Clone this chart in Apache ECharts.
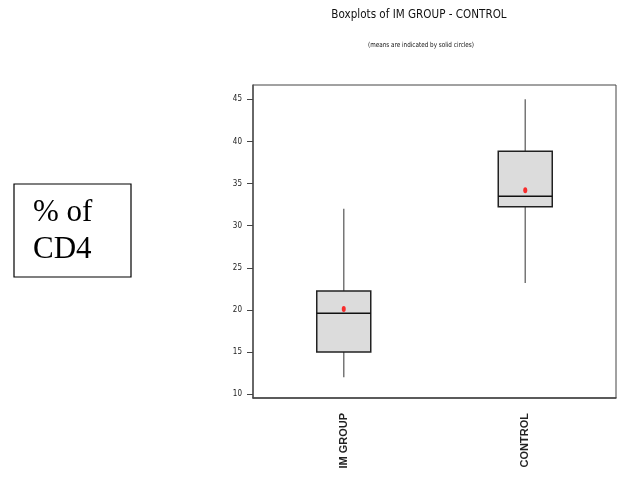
<!DOCTYPE html>
<html>
<head>
<meta charset="utf-8">
<script src="https://cdn.jsdelivr.net/npm/echarts@6/dist/echarts.min.js"></script>
<style>
  html, body { margin: 0; padding: 0; background: #fff; }
  #chart { width: 625px; height: 479px; }
</style>
</head>
<body>
<div id="chart"></div>
<script>
// values
var categories = ['IM GROUP', 'CONTROL'];
var whiskerLow = [12, 23.2];
var q1 = [15, 32.25];
var median = [19.6, 33.5];
var q3 = [22.25, 38.85];
var whiskerHigh = [32, 45];
var means = [20.1, 34.2];
var yTicks = [10, 15, 20, 25, 30, 35, 40, 45];

var boxData = categories.map(function (c, i) {
  return [i, whiskerLow[i], q1[i], median[i], q3[i], whiskerHigh[i]];
});
var meanData = categories.map(function (c, i) { return [i, means[i]]; });

var narrow = '"Liberation Sans Narrow", "DejaVu Sans Condensed", "Liberation Sans", sans-serif';

var chart = echarts.init(document.getElementById('chart'));
chart.setOption({
  backgroundColor: '#fff',
  animation: false,
  grid: {
    left: 253, right: 9, top: 85, bottom: 81,
    show: true, borderColor: '#444', borderWidth: 1
  },
  xAxis: {
    type: 'category',
    data: categories,
    boundaryGap: true,
    axisLine: { lineStyle: { color: '#444', width: 1.5 } },
    axisTick: { alignWithLabel: true, length: 11, lineStyle: { color: '#444' } },
    axisLabel: {
      rotate: 90, margin: 15, fontSize: 11, color: '#222',
      fontFamily: 'Liberation Sans, Arial, sans-serif', fontWeight: 'bold'
    },
    splitLine: { show: false }
  },
  yAxis: {
    type: 'value',
    min: 9.55, max: 46.7,
    axisLine: { show: true, lineStyle: { color: '#555', width: 1.5 } },
    axisTick: { show: true, length: 6, customValues: yTicks, lineStyle: { color: '#444' } },
    axisLabel: {
      customValues: yTicks, fontSize: 8, margin: 11, color: '#222',
      fontFamily: narrow
    },
    splitLine: { show: false }
  },
  graphic: [
    { type: 'text', x: 419, y: 15, scaleX: 0.89, style: {
      text: 'Boxplots of IM GROUP - CONTROL', fontSize: 13, fontFamily: narrow,
      fill: '#111', align: 'center', verticalAlign: 'middle' } },
    { type: 'text', x: 421, y: 45, scaleX: 0.9, style: {
      text: '(means are indicated by solid circles)', fontSize: 7, fontFamily: narrow,
      fill: '#111', align: 'center', verticalAlign: 'middle' } },
    { type: 'rect', shape: { x: 14, y: 184, width: 117, height: 93 },
      style: { fill: '#fff', stroke: '#000', lineWidth: 1.2 } },
    { type: 'text', x: 33, y: 213, style: {
      text: '% of', fontSize: 31, fontFamily: '"Liberation Serif", "Times New Roman", serif',
      fill: '#000', align: 'left', verticalAlign: 'middle' } },
    { type: 'text', x: 33, y: 249.5, style: {
      text: 'CD4', fontSize: 31, fontFamily: '"Liberation Serif", "Times New Roman", serif',
      fill: '#000', align: 'left', verticalAlign: 'middle' } }
  ],
  series: [
    {
      type: 'custom',
      data: boxData,
      encode: { x: 0, y: [1, 2, 3, 4, 5] },
      renderItem: function (params, api) {
        var idx = api.value(0);
        var lo = api.coord([idx, api.value(1)]);
        var b1 = api.coord([idx, api.value(2)]);
        var md = api.coord([idx, api.value(3)]);
        var b3 = api.coord([idx, api.value(4)]);
        var hi = api.coord([idx, api.value(5)]);
        var half = 27;
        var cx = lo[0];
        return {
          type: 'group',
          children: [
            { type: 'line', shape: { x1: cx, y1: hi[1], x2: cx, y2: lo[1] },
              style: { stroke: '#777', lineWidth: 1.5 } },
            { type: 'rect', shape: { x: cx - half, y: b3[1], width: half * 2, height: b1[1] - b3[1] },
              style: { fill: '#dcdcdc', stroke: '#222', lineWidth: 1.5 } },
            { type: 'line', shape: { x1: cx - half, y1: md[1], x2: cx + half, y2: md[1] },
              style: { stroke: '#111', lineWidth: 1.5 } }
          ]
        };
      },
      z: 2
    },
    {
      type: 'scatter',
      data: meanData,
      symbol: 'circle',
      symbolSize: [4, 6],
      itemStyle: { color: '#ff0000' },
      z: 3
    }
  ]
});
</script>
</body>
</html>
